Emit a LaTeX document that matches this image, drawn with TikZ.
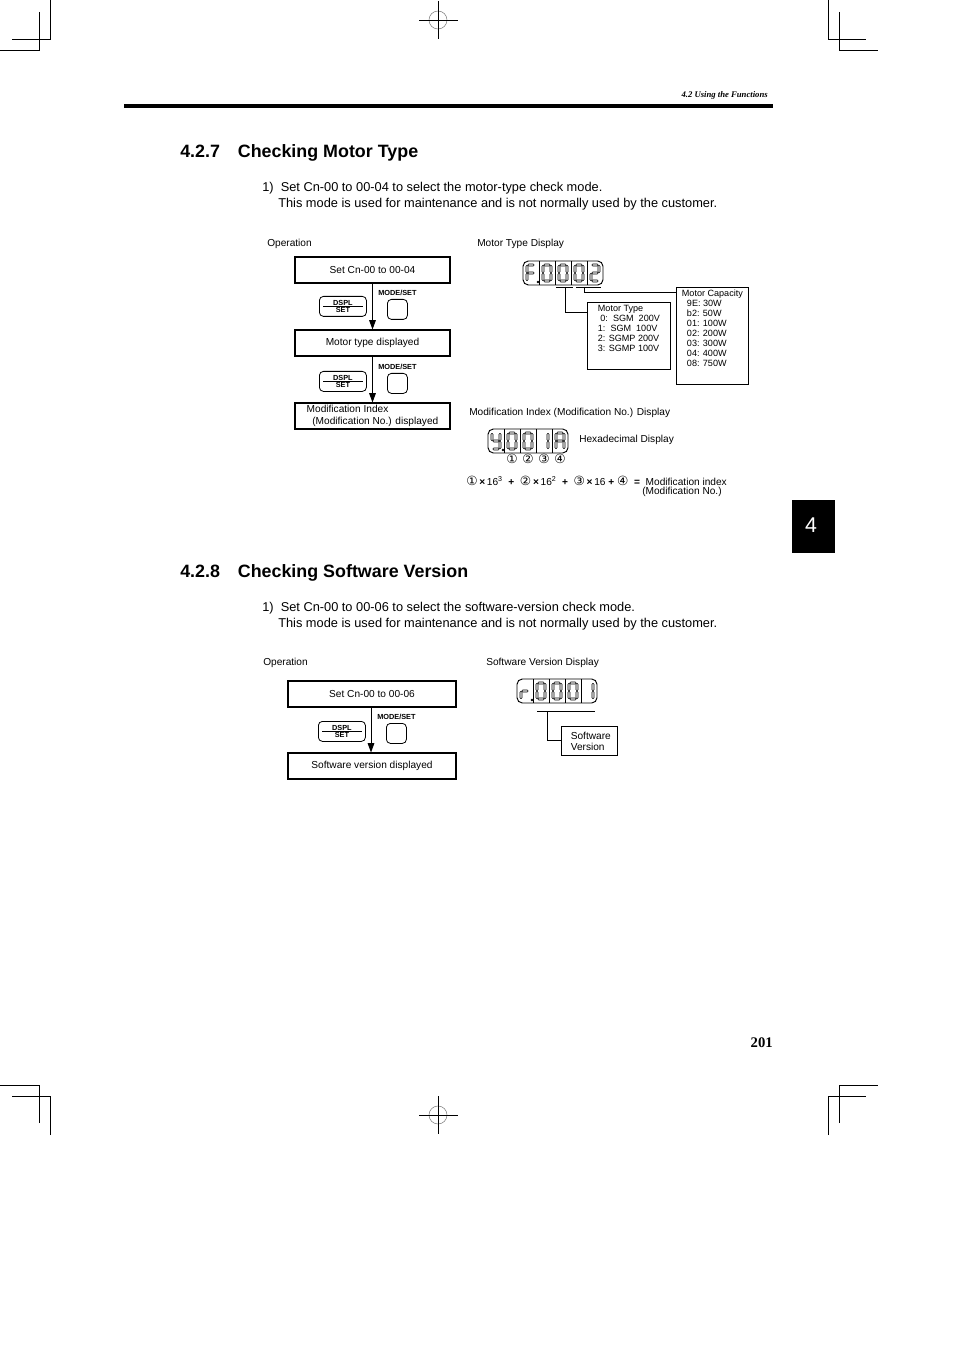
\documentclass[tikz,border=0pt]{standalone}
\usepackage{fontspec}
\setmainfont{Liberation Sans}
\newfontfamily\symfont{DejaVu Sans}
\newfontfamily\headfont{Liberation Serif}
\usetikzlibrary{arrows.meta,positioning}
\tikzset{
	opbox/.style = {draw, line width=0.8pt, minimum width=155*0.75pt, minimum height=26*0.75pt, inner sep=1pt, font=\fontsize{7.6}{8.6}\selectfont, align=center},
	smallbox/.style = {draw, line width=0.6pt, inner sep=2pt, font=\fontsize{6.8}{7.5}\selectfont, align=left, anchor=north west, text depth=0pt},
	lbl/.style = {anchor=west, inner sep=0pt, font=\fontsize{7.6}{9}\selectfont, align=left},
	body/.style = {anchor=west, inner sep=0pt, font=\fontsize{9.6}{12}\selectfont},
	head/.style = {anchor=west, inner sep=0pt, font=\fontsize{13.4}{15}\selectfont\bfseries},
	keycap/.style = {draw, rounded corners=3pt, line width=0.6pt},
	seg/.style = {draw=black, line width=0.4pt, rounded corners=0.5pt},
	lead/.style = {line width=0.7pt},
	flow/.style = {-{Triangle[length=7pt,width=5pt]}, line width=0.7pt},
	crop/.style = {line width=0.6pt}
}
% seven segment pieces, cell of 16 x 24
\def\sega{(5,3) rectangle (11,5)}
\def\segb{(11,4.5) rectangle (13,11.5)}
\def\segc{(11,12.5) rectangle (13,19.5)}
\def\segd{(5,19) rectangle (11,21)}
\def\sege{(3,12.5) rectangle (5,19.5)}
\def\segf{(3,4.5) rectangle (5,11.5)}
\def\segg{(5,11) rectangle (11,13)}
\newcommand\segdigit[3]{%
	\foreach \s in {#3}{%
		\edef\tmp{\noexpand\draw[seg,shift={(#1,#2)}] \csname seg\s\endcsname;}\tmp}}
\newcommand\ledframe[3]{% x, y, name
	\draw[line width=0.7pt, rounded corners=4pt] (#1,#2) rectangle ++(80,24);
	\foreach \k in {1,...,4} \draw[line width=0.6pt] (#1+16*\k,#2) -- ++(0,24);
	\coordinate (#3) at (#1,#2);}
\newcommand\dspl[3]{% x, y, name
	\node[keycap, minimum width=47*0.75pt, minimum height=20*0.75pt, anchor=north west] (#3) at (#1,#2) {};
	\draw[line width=0.5pt] ([xshift=3pt]#3.west) -- ([xshift=-3pt]#3.east);
	\node[font=\fontsize{5.5}{6}\selectfont\bfseries, inner sep=0pt, above=0.3pt of #3.center] {DSPL};
	\node[font=\fontsize{5.5}{6}\selectfont\bfseries, inner sep=0pt, below=0.6pt of #3.center] {SET};}
\newcommand\modeset[3]{% x, y, name
	\node[keycap, minimum width=20*0.75pt, minimum height=20*0.75pt, anchor=north west] (#3) at (#1,#2) {};
	\node[font=\fontsize{5.5}{6}\selectfont\bfseries, inner sep=0pt, above=2pt of #3.north] {MODE/SET};}

\begin{document}
\begin{tikzpicture}[x=0.75pt,y=-0.75pt]
\useasboundingbox (0,0) rectangle (954,1351);
% crop marks
\foreach \sx/\ox in {1/0,-1/878}{
	\foreach \sy/\oy in {1/0,-1/1135}{
		\begin{scope}[shift={(\ox,\oy)}, xscale=\sx, yscale=\sy]
			\draw[crop] (50,0) -- (50,39) -- (12,39);
			\draw[crop] (39,12) -- (39,50) -- (0,50);
		\end{scope}}}
\foreach \cy in {20,1115}{
	\draw[gray, line width=0.4pt] (438,\cy) circle (9);
	\draw[crop] (419,\cy) -- (458,\cy) (438,\cy-19) -- (438,\cy+19);}
% header
\draw[line width=3pt] (124,106) -- (773,106);
\node[anchor=east, inner sep=0pt, font=\headfont\fontsize{6.5}{7}\selectfont\bfseries\itshape] (hdr) at (768,95) {4.2 Using the Functions};
\fill (792,500) rectangle (835,553);
\node[white, font=\fontsize{16}{18}\selectfont] (tab) at (811,525) {4};
\node[anchor=east, inner sep=0pt, font=\headfont\fontsize{11}{13}\selectfont\bfseries] (pg) at (773,1043) {201};

% ---- 4.2.7
\node[head] (h1) at (180,153) {4.2.7\hspace{1em}Checking Motor Type};
\node[body] (t1) at (262,188) {1)\ \ Set Cn-00 to 00-04 to select the motor-type check mode.};
\node[body] (t2) at (278,204) {This mode is used for maintenance and is not normally used by the customer.};
\node[lbl] (op1) at (267,244) {Operation};
\node[lbl] (md1) at (477,244) {Motor Type Display};

\node[opbox] (set4) at (372.5,270) {Set Cn-00 to 00-04};
\node[opbox] (mtd) at (372.5,343) {Motor type displayed};
\node[opbox, align=left] (mid) at (372.5,416) {Modification Index\\ \ \ (Modification No.) displayed};
\draw[flow] (set4) -- (mtd);
\draw[flow] (mtd) -- (mid);
\dspl{319}{296}{k1}
\modeset{387}{299}{m1}
\dspl{319}{371}{k2}
\modeset{387}{373}{m2}

% motor type display
\ledframe{523}{261}{led1}
\segdigit{523}{261}{a,f,g,e}
\fill (538,282) circle (1.3);
\segdigit{539}{261}{a,b,c,d,e,f}
\segdigit{555}{261}{a,b,c,d,e,f}
\segdigit{571}{261}{a,b,c,d,e,f}
\segdigit{587}{261}{a,b,g,e,d}
\draw[lead] (556,287) -- (573,287) (576,287) -- (601,287);
\node[smallbox, minimum width=83*0.75pt, minimum height=60*0.75pt, font=\fontsize{6.8}{7.5}\selectfont] (mtype) at (587,302) {Motor Type\\ \ 0:\ \ SGM\ \ 200V\\ 1:\ \ SGM\ \ 100V\\ 2: SGMP 200V\\ 3: SGMP 100V\\[4pt]};
\node[smallbox, minimum width=72*0.75pt, minimum height=95*0.75pt] (mcap) at (676,287) {Motor Capacity\\ \ \ 9E: 30W\\ \ \ b2: 50W\\ \ \ 01: 100W\\ \ \ 02: 200W\\ \ \ 03: 300W\\ \ \ 04: 400W\\ \ \ 08: 750W\\[4pt]};
\coordinate (u1) at (565,287);
\coordinate (u2) at (584,287);
\draw[lead] (u1) |- (mtype.west |- 0,312);
\draw[lead] (u2) |- (mcap.west |- 0,292);

% modification index display
\node[lbl] (md2) at (469,413) {Modification Index (Modification No.) Display};
\ledframe{488}{429}{led2}
\segdigit{488}{429}{f,g,b,c,d}
\fill (503,450) circle (1.3);
\segdigit{504}{429}{a,b,c,d,e,f}
\segdigit{520}{429}{a,b,c,d,e,f}
\segdigit{536}{429}{b,c}
\segdigit{552}{429}{a,b,c,e,f,g}
\node[lbl] (hex) at (579,440) {Hexadecimal Display};
\foreach \n/\cx in {1/512,2/528,3/544,4/560}
	\node[font=\symfont\fontsize{9.5}{10}\selectfont, inner sep=0pt] (c\n) at (\cx,459) {\ifcase\n\or ①\or ②\or ③\or ④\fi};
\node[lbl] (form) at (466,481) {{\symfont\fontsize{9.5}{10}\selectfont ①}\,\textbf{×}\,16\textsuperscript{3}\ \ \textbf{+}\ \ {\symfont\fontsize{9.5}{10}\selectfont ②}\,\textbf{×}\,16\textsuperscript{2}\ \ \textbf{+}\ \ {\symfont\fontsize{9.5}{10}\selectfont ③}\,\textbf{×}\,16 \textbf{+}\ {\symfont\fontsize{9.5}{10}\selectfont ④}\ \ \textbf{=}\ \ Modification index};
\node[lbl] (form2) at (642,492) {(Modification No.)};

% ---- 4.2.8
\node[head] (h2) at (180,573) {4.2.8\hspace{1em}Checking Software Version};
\node[body] (t3) at (262,608) {1)\ \ Set Cn-00 to 00-06 to select the software-version check mode.};
\node[body] (t4) at (278,624) {This mode is used for maintenance and is not normally used by the customer.};
\node[lbl] (op2) at (263,663) {Operation};
\node[lbl] (sv) at (486,663) {Software Version Display};

\node[opbox, minimum width=168*0.75pt] (set6) at (372,694) {Set Cn-00 to 00-06};
\node[opbox, minimum width=168*0.75pt] (svd) at (372,766) {Software version displayed};
\draw[flow] (set6.south -| 371,0) -- (svd.north -| 371,0);
\dspl{318}{721}{k3}
\modeset{386}{723}{m3}

\ledframe{517}{679}{led3}
\segdigit{517}{679}{e,g}
\fill (532,700) circle (1.3);
\segdigit{533}{679}{a,b,c,d,e,f}
\segdigit{549}{679}{a,b,c,d,e,f}
\segdigit{565}{679}{a,b,c,d,e,f}
\segdigit{581}{679}{b,c}
\draw[lead] (537,711) -- (595,711);
\node[smallbox, minimum width=56*0.75pt, minimum height=29*0.75pt, font=\fontsize{7.6}{8.3}\selectfont] (swv) at (561,726) {\ Software\\\ Version};
\coordinate (u3) at (547,711);
\draw[lead] (u3) |- (swv.west |- 0,740);
\end{tikzpicture}
\end{document}
